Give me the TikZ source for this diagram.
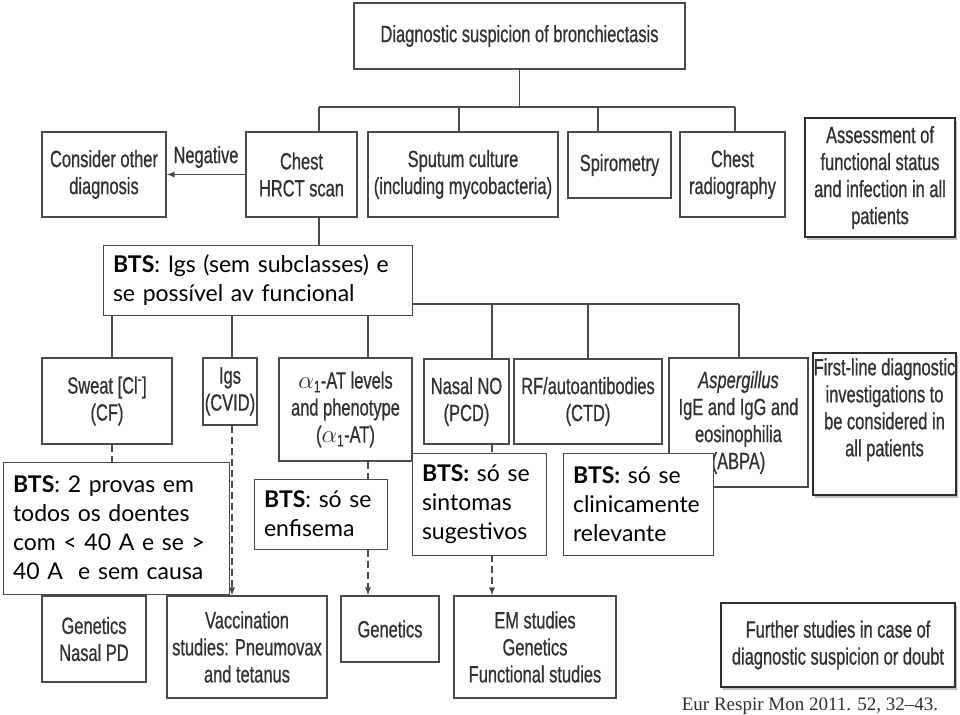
\documentclass[tikz,border=0pt]{standalone}
\usepackage{fontspec}
\setmainfont{Liberation Sans}
\newfontfamily\arialn[FakeStretch=0.70,FakeBold=0.6]{Liberation Sans}
\newfontfamily\gillf{Lato}
\newfontfamily\refserif{Liberation Serif}
\usetikzlibrary{arrows.meta,shadows}
\definecolor{linec}{HTML}{4A4A4A}
\definecolor{txtc}{HTML}{303030}
\definecolor{darkb}{HTML}{2E2E2E}
\tikzset{
  box/.style={draw=linec, line width=1.1pt, fill=white, align=center, inner sep=1pt, text=txtc,
    font=\arialn\fontsize{23.5}{27}\selectfont},
  sbox/.style={box, draw=darkb, line width=1.8pt,
    drop shadow={shadow xshift=2pt, shadow yshift=-3pt, opacity=0.25, fill=black}},
  btsbox/.style={draw=linec, line width=1pt, fill=white, align=left, inner xsep=10pt, inner ysep=1pt,
    text=black, font=\gillf\fontsize{23}{29}\selectfont},
  plain/.style={text=txtc, inner sep=0pt, align=center, font=\arialn\fontsize{23.5}{27}\selectfont},
  conn/.style={draw=linec, line width=1.1pt},
  dconn/.style={conn, dash pattern=on 7pt off 4pt},
  arr/.style={-{Latex[length=8pt,width=6pt]}},
}
\begin{document}
\begin{tikzpicture}[x=1pt,y=-1pt]
\useasboundingbox[fill=white] (0,0) rectangle (960,714);

% top
\node[box, minimum width=331pt, minimum height=66pt] (top) at (519.5,36) {Diagnostic suspicion of bronchiectasis};

% row 2
\node[box, minimum width=124pt, minimum height=85pt] (cons) at (104,174.5) {Consider other\\diagnosis};
\node[box, minimum width=111pt, minimum height=85pt] (hrct) at (301.5,174.5) {Chest\\HRCT scan};
\node[box, minimum width=190pt, minimum height=85pt] (sput) at (463,174.5) {Sputum culture\\(including mycobacteria)};
\node[box, minimum width=103pt, minimum height=66pt] (spiro) at (619.5,165) {Spirometry};
\node[box, minimum width=105pt, minimum height=85pt] (crad) at (732.5,174.5) {Chest\\radiography};
\node[sbox, minimum width=150pt, minimum height=119pt] (assess) at (880,177.5) {Assessment of\\functional status\\and infection in all\\patients};

% row 3
\node[box, minimum width=130pt, minimum height=86pt] (sweat) at (107,401) {Sweat [Cl\textsuperscript{-}]\\(CF)};
\node[box, minimum width=54pt, minimum height=67pt] (igs) at (230,391.5) {Igs\\(CVID)};
\node[box, minimum width=133pt, minimum height=103pt] (aat) at (345.5,409.5) {$\alpha$\textsubscript{1}-AT levels\\and phenotype\\($\alpha$\textsubscript{1}-AT)};
\node[box, minimum width=85pt, minimum height=85pt] (nasal) at (466.5,401.5) {Nasal NO\\(PCD)};
\node[box, minimum width=148pt, minimum height=85pt] (rf) at (588,401.5) {RF/autoantibodies\\(CTD)};
\node[box, minimum width=139pt, minimum height=129pt] (asp) at (738.5,422.5) {\itshape Aspergillus\\IgE and IgG and\\eosinophilia\\(ABPA)};
\node[sbox, minimum width=143pt, minimum height=142pt] (first) at (884.5,424) {};
\node[plain, anchor=north] (firsttxt) at ([yshift=-6pt]first.north) {First-line diagnostic\\investigations to\\be considered in\\all patients};

% row 4
\node[box, minimum width=104pt, minimum height=86pt] (gnpd) at (94,639) {Genetics\\Nasal PD};
\node[box, minimum width=160pt, minimum height=102pt] (vacc) at (247,647) {Vaccination\\studies: Pneumovax\\and tetanus};
\node[box, minimum width=98pt, minimum height=66pt] (gen) at (390,629) {Genetics};
\node[box, minimum width=162pt, minimum height=102pt] (em) at (535,647) {EM studies\\Genetics\\Functional studies};
\node[sbox, minimum width=234pt, minimum height=84pt] (further) at (838,645) {Further studies in case of\\diagnostic suspicion or doubt};

% citation
\node[anchor=base, inner sep=0pt, text=txtc, font=\refserif\fontsize{19}{22}\selectfont] (cite) at (810,710.5) {Eur Respir Mon 2011. 52, 32–43.};

% top bus
\coordinate (b1L) at (319,107);
\coordinate (b1a) at (459,107);
\coordinate (b1b) at (598,107);
\coordinate (b1R) at (735,107);
\draw[conn] (top.south) -- (top.south |- b1L);
\draw[conn] (b1L) -- (b1R);
\draw[conn] (b1L) -- (b1L |- hrct.north);
\draw[conn] (b1a) -- (b1a |- sput.north);
\draw[conn] (b1b) -- (b1b |- spiro.north);
\draw[conn] (b1R) -- (b1R |- crad.north);

% negative
\draw[conn, arr] (hrct.west) -- (cons.east);
\node[plain] (neg) at (206,157) {Negative};

% second bus
\coordinate (b2L) at (112,304);
\coordinate (b2a) at (232,304);
\coordinate (b2b) at (368,304);
\coordinate (b2h) at (319,304);
\coordinate (b2c) at (492,304);
\coordinate (b2d) at (588,304);
\coordinate (b2R) at (739,304);
\draw[conn] (b2h |- hrct.south) -- (b2h);
\draw[conn] (b2L) -- (b2R);
\draw[conn] (b2L) -- (b2L |- sweat.north);
\draw[conn] (b2a) -- (b2a |- igs.north);
\draw[conn] (b2b) -- (b2b |- aat.north);
\draw[conn] (b2c) -- (b2c |- nasal.north);
\draw[conn] (b2d) -- (b2d |- rf.north);
\draw[conn] (b2R) -- (b2R |- asp.north);

% dashed arrows
\draw[dconn] (b2L |- sweat.south) -- (b2L |- gnpd.north);
\draw[dconn, arr] (b2a |- igs.south) -- (b2a |- vacc.north);
\draw[dconn, arr] (b2b |- aat.south) -- (b2b |- gen.north);
\draw[dconn, arr] (b2c |- nasal.south) -- (b2c |- em.north);

% BTS overlays
\node[btsbox, minimum width=309pt, text width=289pt, minimum height=70pt] (btsigs) at (257.5,280) {\textbf{BTS}: Igs (sem subclasses) e\\se possível av funcional};
\node[btsbox, minimum width=226pt, text width=206pt, minimum height=132pt] (bts2) at (116,528) {\textbf{BTS}: 2 provas em\\todos os doentes\\com < 40 A e se >\\40 A~ e sem causa};
\node[btsbox, minimum width=133pt, text width=113pt, minimum height=70pt] (btsenf) at (320.5,514) {\textbf{BTS}: só se\\enfisema};
\node[btsbox, minimum width=134pt, text width=114pt, minimum height=102pt] (btssint) at (479,504) {\textbf{BTS:} só se\\sintomas\\sugestivos};
\node[btsbox, minimum width=150pt, text width=130pt, minimum height=102pt] (btsclin) at (638,504) {\textbf{BTS:} só se\\clinicamente\\relevante};
\end{tikzpicture}
\end{document}
